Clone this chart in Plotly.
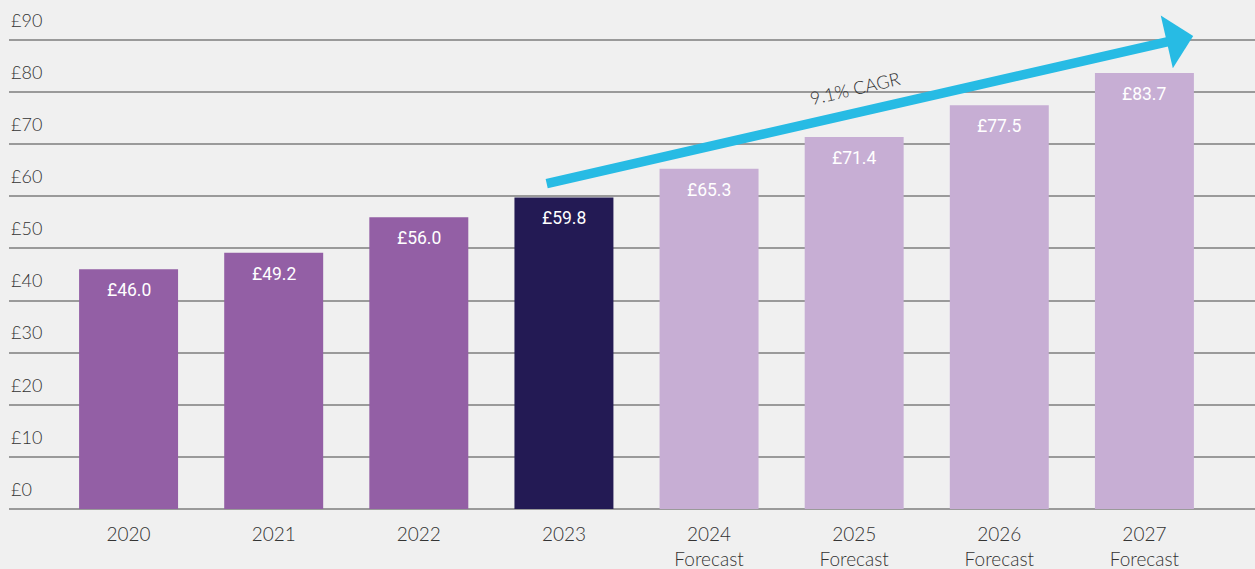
import plotly.graph_objects as go

years = ["2020", "2021", "2022", "2023", "2024", "2025", "2026", "2027"]
tick_labels = ["2020", "2021", "2022", "2023",
               "2024<br>Forecast", "2025<br>Forecast", "2026<br>Forecast", "2027<br>Forecast"]
values = [46.0, 49.2, 56.0, 59.8, 65.3, 71.4, 77.5, 83.7]
bar_colors = ["#935FA5", "#935FA5", "#935FA5", "#231A54",
              "#C7AED4", "#C7AED4", "#C7AED4", "#C7AED4"]
y_ticks = [0, 10, 20, 30, 40, 50, 60, 70, 80, 90]
y_tick_labels = ["£" + str(v) for v in y_ticks]
cagr_text = "9.1% CAGR"

xpos = list(range(len(years)))

# plot area: y=0 at 509px, y=90 at 40px
px_per_unit = 469 / 90
y_top = 97.5
top_margin = 509 - y_top * px_per_unit

fig = go.Figure()
fig.add_trace(go.Bar(
    x=xpos, y=values, marker=dict(color=bar_colors, line=dict(width=0)),
    width=0.682, hoverinfo="skip",
))

for xi, v in zip(xpos, values):
    fig.add_annotation(
        x=xi, y=v, xref="x", yref="y", text=f"£{v:.1f}", showarrow=False,
        yanchor="middle", yshift=-21,
        font=dict(family="Roboto", size=17.5, color="white", weight=400),
    )

# CAGR arrow (tip near 2027, tail at 2023 level)
fig.add_annotation(
    x=7.336, y=90.8, xref="x", yref="y",
    ax=-648, ay=148, axref="pixel", ayref="pixel",
    text="", showarrow=True, arrowhead=1, arrowsize=0.95, arrowwidth=9.5,
    arrowcolor="#27BBE4", standoff=0, startstandoff=0,
)
fig.add_annotation(
    x=5.006, y=80.8, xref="x", yref="y", text=cagr_text, showarrow=False,
    textangle=-13, font=dict(family="Lato", size=18, color="#333333", weight=300),
)

fig.update_layout(
    width=1255, height=569,
    margin=dict(l=9, r=0, t=top_margin, b=60),
    paper_bgcolor="#f0f0f0", plot_bgcolor="#f0f0f0",
    showlegend=False,
    font=dict(family="Lato", size=18, color="#333333", weight=300),
    bargap=0.318,
)
fig.update_xaxes(
    range=[-0.824, 7.762], tickmode="array", tickvals=xpos, ticktext=tick_labels,
    showgrid=False, zeroline=False, ticks="", showline=False,
    ticklabelstandoff=12,
    tickfont=dict(family="Lato", size=19, color="#333333", weight=300),
)
fig.update_yaxes(
    range=[0, y_top], tickmode="array", tickvals=y_ticks, ticktext=y_tick_labels,
    showgrid=True, gridcolor="#9a9a9a", gridwidth=2, zeroline=True,
    zerolinecolor="#9a9a9a", zerolinewidth=2, ticks="", showline=False,
    ticklabelposition="inside top", ticklabelstandoff=-1, ticklabelshift=-7,
    tickfont=dict(family="Lato", size=18, color="#333333", weight=300),
)

fig.write_html("out.html", config={"displayModeBar": False},
               post_script="document.body.style.margin='0';")
